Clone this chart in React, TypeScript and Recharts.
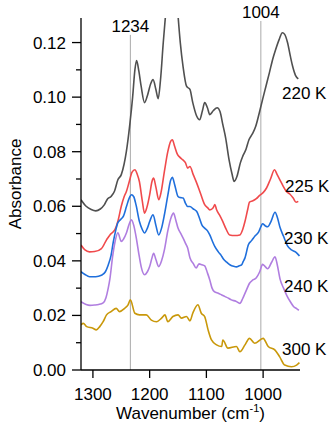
import { LineChart, Line, XAxis, YAxis, ReferenceLine } from "recharts";

// spectra (wavenumber in cm-1, absorbance)
const wn220 = [1321, 1312, 1303, 1295, 1287, 1280, 1274, 1268, 1262, 1256, 1250, 1245, 1241, 1235, 1230, 1226, 1223, 1219, 1215, 1209, 1204, 1198, 1194, 1189, 1185, 1181, 1176, 1172, 1166, 1160, 1155, 1150, 1146, 1141, 1135, 1129, 1124, 1117, 1112, 1107, 1103, 1098, 1094, 1088, 1081, 1076, 1071, 1066, 1060, 1055, 1051, 1046, 1040, 1036, 1030, 1025, 1019, 1013, 1007, 1001, 995, 989, 983, 978, 972, 966, 962, 957, 952, 948, 943, 938];
const abs220 = [0.0624, 0.06, 0.0588, 0.0583, 0.059, 0.0605, 0.0628, 0.0636, 0.0655, 0.0697, 0.0716, 0.0755, 0.0801, 0.0899, 0.1, 0.11, 0.1134, 0.1095, 0.104, 0.098, 0.1005, 0.105, 0.1064, 0.1028, 0.0994, 0.106, 0.12, 0.13, 0.145, 0.152, 0.145, 0.13, 0.12, 0.111, 0.104, 0.1028, 0.098, 0.093, 0.0917, 0.095, 0.098, 0.096, 0.0936, 0.095, 0.0961, 0.0947, 0.0899, 0.085, 0.077, 0.072, 0.0691, 0.071, 0.076, 0.0783, 0.081, 0.0844, 0.0865, 0.0893, 0.094, 0.0991, 0.104, 0.1089, 0.114, 0.1174, 0.121, 0.1236, 0.123, 0.12, 0.115, 0.1113, 0.108, 0.1067];

const wn225 = [1321, 1314, 1306, 1297, 1285, 1276, 1270, 1265, 1261, 1256, 1250, 1245, 1241, 1236, 1231, 1226, 1222, 1218, 1213, 1209, 1205, 1200, 1196, 1193, 1189, 1184, 1180, 1174, 1168, 1163, 1160, 1156, 1151, 1147, 1142, 1137, 1133, 1129, 1123, 1117, 1110, 1103, 1098, 1094, 1088, 1085, 1082, 1076, 1071, 1065, 1059, 1050, 1041, 1036, 1032, 1027, 1024, 1018, 1012, 1006, 1000, 994, 987, 980, 975, 970, 965, 959, 953, 947, 942, 938];
const abs225 = [0.0458, 0.044, 0.0433, 0.0434, 0.0445, 0.0477, 0.0495, 0.0505, 0.0515, 0.0545, 0.06, 0.0635, 0.0654, 0.069, 0.0725, 0.0734, 0.0718, 0.069, 0.062, 0.0575, 0.0595, 0.0642, 0.069, 0.0703, 0.067, 0.0624, 0.065, 0.0728, 0.08, 0.0838, 0.0844, 0.082, 0.079, 0.078, 0.0771, 0.076, 0.074, 0.0746, 0.0715, 0.0685, 0.0645, 0.0606, 0.0595, 0.0587, 0.0595, 0.0606, 0.0587, 0.0565, 0.0544, 0.0515, 0.0495, 0.0493, 0.0495, 0.0515, 0.0544, 0.059, 0.0615, 0.062, 0.0628, 0.064, 0.065, 0.0667, 0.07, 0.0734, 0.0715, 0.0695, 0.0675, 0.0654, 0.0645, 0.063, 0.0615, 0.0618];

const wn230 = [1321, 1314, 1306, 1295, 1285, 1278, 1273, 1268, 1264, 1260, 1256, 1251, 1246, 1241, 1236, 1232, 1228, 1224, 1218, 1213, 1209, 1204, 1200, 1194, 1189, 1184, 1179, 1174, 1168, 1163, 1160, 1156, 1150, 1146, 1141, 1137, 1133, 1129, 1123, 1117, 1112, 1108, 1103, 1098, 1094, 1089, 1085, 1079, 1074, 1070, 1064, 1058, 1052, 1047, 1042, 1038, 1035, 1032, 1026, 1020, 1014, 1008, 1004, 1001, 996, 992, 986, 979, 975, 970, 964, 957, 950, 943, 936];
const abs230 = [0.036, 0.035, 0.0342, 0.0342, 0.0347, 0.036, 0.0385, 0.042, 0.047, 0.051, 0.054, 0.0552, 0.0565, 0.0598, 0.063, 0.0642, 0.0635, 0.0605, 0.0544, 0.0515, 0.0502, 0.052, 0.0544, 0.0569, 0.053, 0.0495, 0.052, 0.0569, 0.064, 0.0695, 0.0706, 0.068, 0.0636, 0.0632, 0.063, 0.0612, 0.0599, 0.0599, 0.059, 0.0581, 0.0555, 0.0532, 0.052, 0.051, 0.0495, 0.047, 0.0452, 0.0433, 0.042, 0.0407, 0.0395, 0.0385, 0.038, 0.0378, 0.0382, 0.0385, 0.0398, 0.0411, 0.0459, 0.0475, 0.0492, 0.0505, 0.0525, 0.0536, 0.0528, 0.0525, 0.0545, 0.0578, 0.056, 0.0521, 0.049, 0.0455, 0.044, 0.0433, 0.0418];

const wn240 = [1321, 1312, 1305, 1297, 1290, 1282, 1277, 1273, 1270, 1265, 1261, 1256, 1250, 1246, 1241, 1236, 1232, 1228, 1223, 1219, 1215, 1209, 1204, 1200, 1196, 1193, 1189, 1184, 1179, 1174, 1168, 1162, 1158, 1154, 1150, 1145, 1141, 1137, 1133, 1129, 1123, 1118, 1113, 1108, 1103, 1098, 1094, 1090, 1086, 1079, 1073, 1067, 1061, 1056, 1048, 1041, 1036, 1032, 1028, 1024, 1018, 1012, 1006, 1001, 996, 992, 985, 979, 975, 970, 964, 958, 952, 946, 941, 937];
const abs240 = [0.025, 0.024, 0.0237, 0.0238, 0.024, 0.0246, 0.0265, 0.03, 0.0335, 0.042, 0.047, 0.0503, 0.0471, 0.048, 0.0502, 0.0535, 0.055, 0.053, 0.0477, 0.0425, 0.0379, 0.0349, 0.036, 0.0379, 0.041, 0.0428, 0.0405, 0.0379, 0.04, 0.044, 0.051, 0.056, 0.0575, 0.055, 0.052, 0.05, 0.0483, 0.0465, 0.0447, 0.0411, 0.039, 0.0374, 0.0389, 0.0386, 0.0382, 0.0355, 0.033, 0.03, 0.0287, 0.0281, 0.0275, 0.0269, 0.0263, 0.0257, 0.0252, 0.0244, 0.0262, 0.0281, 0.03, 0.0318, 0.033, 0.0338, 0.036, 0.0387, 0.0378, 0.0371, 0.0395, 0.0415, 0.0385, 0.0332, 0.03, 0.0272, 0.025, 0.0232, 0.0225, 0.0219];

const wn300 = [1321, 1317, 1311, 1300, 1294, 1288, 1282, 1276, 1268, 1259, 1253, 1244, 1238, 1234, 1226, 1218, 1206, 1197, 1188, 1179, 1173, 1168, 1159, 1150, 1144, 1135, 1129, 1124, 1115, 1109, 1103, 1097, 1091, 1082, 1073, 1071, 1062, 1047, 1041, 1032, 1024, 1015, 1000, 991, 979, 971, 962, 950, 941, 936];
const abs300 = [0.0165, 0.0171, 0.0159, 0.0153, 0.0147, 0.0159, 0.0177, 0.0202, 0.0214, 0.0226, 0.0214, 0.0226, 0.0239, 0.0257, 0.0208, 0.0202, 0.0202, 0.0183, 0.0177, 0.019, 0.0202, 0.0177, 0.0196, 0.0202, 0.019, 0.0196, 0.018, 0.0208, 0.0239, 0.0208, 0.0196, 0.0147, 0.011, 0.0092, 0.0086, 0.011, 0.008, 0.0086, 0.0067, 0.0092, 0.0116, 0.0098, 0.0116, 0.0086, 0.0073, 0.0049, 0.0018, 0.0012, 0.0018, 0.0027];

const xTicks = [950, 1000, 1050, 1100, 1150, 1200, 1250, 1300];
const xMajor = [1000, 1100, 1200, 1300];
const yTicks = [0, 0.01, 0.02, 0.03, 0.04, 0.05, 0.06, 0.07, 0.08, 0.09, 0.1, 0.11, 0.12];
const markerA = 1234;
const markerB = 1004;

const FONT = '"Liberation Sans", Arial, Helvetica, sans-serif';

const series = [
  { name: "220 K", wn: wn220, abs: abs220, color: "#505050" },
  { name: "225 K", wn: wn225, abs: abs225, color: "#f04a4c" },
  { name: "230 K", wn: wn230, abs: abs230, color: "#1f6fdc" },
  { name: "240 K", wn: wn240, abs: abs240, color: "#b07ee0" },
  { name: "300 K", wn: wn300, abs: abs300, color: "#c9980a" },
].map((s) => ({ ...s, data: s.wn.map((w, i) => ({ wn: w, abs: s.abs[i] })) }));

// where the temperature labels sit (page px)
const labelPos = [
  { x: 282, y: 98.5 },
  { x: 285, y: 191.5 },
  { x: 284, y: 243.5 },
  { x: 284, y: 292 },
  { x: 282, y: 355 },
];

function XTick({ x, y, payload }: any) {
  const major = xMajor.includes(payload.value);
  return (
    <g>
      <line x1={x} x2={x} y1={y} y2={y + (major ? 8 : 5)} stroke="#000" strokeWidth={1.3} />
      {major && (
        <text x={x} y={y + 29.5} textAnchor="middle" fontSize={17} fontFamily={FONT} fill="#000">
          {payload.value}
        </text>
      )}
    </g>
  );
}

function YTick({ x, y, payload }: any) {
  const major = Math.round(payload.value * 100) % 2 === 0;
  return (
    <g>
      <line x1={x} x2={x - (major ? 9 : 5)} y1={y} y2={y} stroke="#000" strokeWidth={1.3} />
      {major && (
        <text x={x - 15} y={y + 6} textAnchor="end" fontSize={17} fontFamily={FONT} fill="#000">
          {payload.value.toFixed(2)}
        </text>
      )}
    </g>
  );
}

export default function App() {
  return (
    <div style={{ position: "absolute", left: 0, top: 0, width: 332, height: 425, background: "#fff", fontFamily: FONT }}>
      <LineChart width={332} height={425} margin={{ top: 18, right: 32, bottom: 0, left: 0 }}>
        <XAxis
          type="number"
          dataKey="wn"
          domain={[935, 1321]}
          reversed
          allowDataOverflow
          ticks={xTicks}
          tick={<XTick />}
          tickLine={false}
          tickSize={0}
          tickMargin={0}
          height={55}
          axisLine={{ stroke: "#000", strokeWidth: 1.3 }}
          label={({ viewBox }: any) => (
            <text x={viewBox.x + viewBox.width / 2} y={viewBox.y + 49} textAnchor="middle" fontSize={17} fontFamily={FONT} fill="#000">
              Wavenumber (cm
              <tspan dy={-7} fontSize={11}>-1</tspan>
              <tspan dy={7}>)</tspan>
            </text>
          )}
        />
        <YAxis
          type="number"
          domain={[0, 0.129]}
          allowDataOverflow
          ticks={yTicks}
          tick={<YTick />}
          tickLine={false}
          tickSize={0}
          tickMargin={0}
          width={81}
          axisLine={{ stroke: "#000", strokeWidth: 1.3 }}
          label={({ viewBox }: any) => (
            <text
              x={20.5}
              y={184}
              transform="rotate(-90 20.5 184)"
              textAnchor="middle"
              fontSize={17}
              fontFamily={FONT}
              fill="#000"
            >
              Absorbance
            </text>
          )}
        />
        <ReferenceLine
          segment={[{ x: markerA, y: 0.1228 }, { x: markerA, y: 0 }]}
          stroke="#aaaaaa"
          strokeWidth={1}
          label={{ value: String(markerA), position: "top", offset: 3, fontSize: 17, fill: "#000", fontFamily: FONT }}
        />
        <ReferenceLine
          segment={[{ x: markerB, y: 0.1279 }, { x: markerB, y: 0 }]}
          stroke="#aaaaaa"
          strokeWidth={1}
          label={{ value: String(markerB), position: "top", offset: 3, fontSize: 17, fill: "#000", fontFamily: FONT }}
        />
        {series.map((s) => (
          <Line
            key={s.name}
            data={s.data}
            dataKey="abs"
            type="monotone"
            stroke={s.color}
            strokeWidth={1.6}
            dot={false}
            isAnimationActive={false}
          />
        ))}
      </LineChart>
      <svg width={332} height={425} style={{ position: "absolute", left: 0, top: 0, pointerEvents: "none" }}>
        {series.map((s, i) => (
          <text key={s.name} x={labelPos[i].x} y={labelPos[i].y} fontSize={17} fontFamily={FONT} fill="#000">
            {s.name}
          </text>
        ))}
      </svg>
    </div>
  );
}
